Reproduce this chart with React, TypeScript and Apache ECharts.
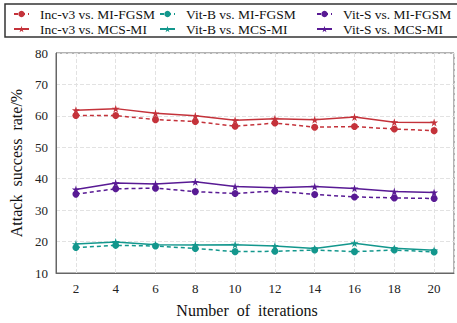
import React, { useEffect, useRef } from "react";
import * as echarts from "echarts";

const iterations = [2, 4, 6, 8, 10, 12, 14, 16, 18, 20];
const incMI = [60.1, 60.1, 58.8, 58.2, 56.7, 57.7, 56.4, 56.6, 55.8, 55.3];
const incMCS = [61.8, 62.3, 60.8, 60.0, 58.6, 59.1, 58.8, 59.6, 58.0, 57.9];
const vitBMI = [18.1, 18.8, 18.6, 17.8, 16.8, 16.9, 17.3, 16.8, 17.3, 16.7];
const vitBMCS = [19.2, 19.9, 19.0, 18.9, 19.0, 18.6, 17.8, 19.5, 17.9, 17.2];
const vitSMI = [35.1, 36.8, 37.0, 35.9, 35.3, 36.1, 35.0, 34.2, 33.9, 33.7];
const vitSMCS = [36.6, 38.6, 38.3, 39.0, 37.5, 37.1, 37.5, 36.9, 35.9, 35.6];

const RED = "#c4323a";
const TEAL = "#13978d";
const PURPLE = "#581a94";
const STAR =
  "path://M50,0 L61,35 L98,35 L68,57 L79,91 L50,70 L21,91 L32,57 L2,35 L39,35 Z";
const FONT = "Liberation Serif";

function mk(name: string, vals: number[], color: string, mi: boolean) {
  return {
    name,
    type: "line",
    data: iterations.map((x, i) => [x, vals[i]]),
    symbol: mi ? "circle" : STAR,
    symbolSize: mi ? 7 : 8,
    itemStyle: { color },
    lineStyle: { color, width: 1.5, type: mi ? [4, 3] : "solid" },
  };
}

export default function App() {
  const ref = useRef<HTMLDivElement>(null);
  useEffect(() => {
    const chart = echarts.init(ref.current!, null, { renderer: "svg" });
    const legendBase = {
      orient: "vertical",
      top: 7,
      padding: 0,
      itemWidth: 15,
      itemHeight: 8,
      itemGap: 1,
      textStyle: {
        fontFamily: FONT,
        fontSize: 13.5,
        lineHeight: 14,
        color: "#111",
        padding: [0, 0, 0, 6],
      },
    };
    chart.setOption({
      animation: false,
      grid: {
        left: 56,
        top: 53,
        width: 406,
        height: 222,
        show: true,
        borderColor: "#666",
        borderWidth: 1,
      },
      legend: [
        { ...legendBase, left: 13, data: ["Inc-v3 vs. MI-FGSM", "Inc-v3 vs. MCS-MI"] },
        { ...legendBase, left: 159, data: ["Vit-B vs. MI-FGSM", "Vit-B vs. MCS-MI"] },
        { ...legendBase, left: 316, data: ["Vit-S vs. MI-FGSM", "Vit-S vs. MCS-MI"] },
      ],
      graphic: [
        {
          type: "rect",
          shape: { x: 5, y: 4, width: 460, height: 33 },
          style: { fill: "none", stroke: "#333", lineWidth: 1.5 },
        },
      ],
      xAxis: {
        type: "value",
        min: 1,
        max: 21,
        splitNumber: 10,
        name: "Number  of  iterations",
        nameLocation: "middle",
        nameGap: 29,
        nameTextStyle: { fontFamily: FONT, fontSize: 16, color: "#111", padding: [0, 16, 0, 0] },
        axisLine: { lineStyle: { color: "#666" } },
        axisTick: { show: false },
        axisLabel: {
          fontFamily: FONT,
          fontSize: 13,
          color: "#222",
          margin: 9,
          formatter: (v: number) => (v % 2 === 0 ? String(v) : ""),
        },
        splitLine: { lineStyle: { color: "#e2e2e2", type: "dashed" } },
      },
      yAxis: {
        type: "value",
        min: 10,
        max: 80,
        interval: 10,
        name: "Attack  success  rate/%",
        nameLocation: "middle",
        nameGap: 31,
        nameTextStyle: { fontFamily: FONT, fontSize: 16, color: "#111" },
        axisLine: { show: true, lineStyle: { color: "#666" } },
        axisTick: { show: false },
        axisLabel: { fontFamily: FONT, fontSize: 13, color: "#222", margin: 8 },
        splitLine: { lineStyle: { color: "#e2e2e2", type: "dashed" } },
      },
      series: [
        mk("Inc-v3 vs. MI-FGSM", incMI, RED, true),
        mk("Inc-v3 vs. MCS-MI", incMCS, RED, false),
        mk("Vit-B vs. MI-FGSM", vitBMI, TEAL, true),
        mk("Vit-B vs. MCS-MI", vitBMCS, TEAL, false),
        mk("Vit-S vs. MI-FGSM", vitSMI, PURPLE, true),
        mk("Vit-S vs. MCS-MI", vitSMCS, PURPLE, false),
      ],
    });
    return () => chart.dispose();
  }, []);
  return (
    <div
      ref={ref}
      style={{ position: "absolute", left: 0, top: 0, width: 457, height: 323 }}
    />
  );
}
